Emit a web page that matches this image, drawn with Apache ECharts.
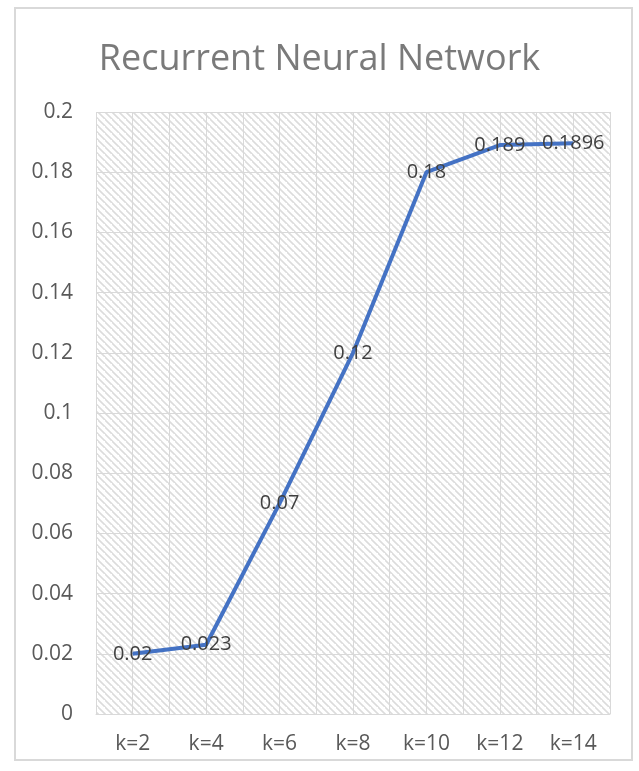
<!DOCTYPE html>
<html>
<head>
<meta charset="utf-8">
<script src="https://cdn.jsdelivr.net/npm/echarts@6/dist/echarts.min.js"></script>
<style>
  html, body { margin: 0; padding: 0; background: #ffffff; }
  #frame { position: absolute; left: 14px; top: 7px; width: 619px; height: 754px;
           border: 2px solid #d9d9d9; box-sizing: border-box; }
  #chart { position: absolute; left: 0; top: 0; width: 639px; height: 771px; }
</style>
</head>
<body>
<div id="frame"></div>
<div id="chart"></div>
<script>
// Chart data
const titleText = 'Recurrent Neural Network';
const categories = ['k=2', 'k=4', 'k=6', 'k=8', 'k=10', 'k=12', 'k=14'];
const values = [0.02, 0.023, 0.07, 0.12, 0.18, 0.189, 0.1896];
const yMin = 0;
const yMax = 0.2;
const yStep = 0.02;

// Diagonal hatch tile for the plot background
function hatchTile() {
  const s = 7;
  const c = document.createElement('canvas');
  c.width = s; c.height = s;
  const g = c.getContext('2d');
  g.fillStyle = '#ffffff';
  g.fillRect(0, 0, s, s);
  g.strokeStyle = '#dcdcdc';
  g.lineWidth = 1.6;
  g.beginPath();
  g.moveTo(-1, -1); g.lineTo(s + 1, s + 1);
  g.moveTo(-s - 1, -1); g.lineTo(1, s + 1);
  g.moveTo(s - 1, -s - 1); g.lineTo(2 * s + 1, s + 1);
  g.stroke();
  return c;
}

const chart = echarts.init(document.getElementById('chart'), null, { renderer: 'canvas' });
const font = '"Open Sans", "Noto Sans", sans-serif';

chart.setOption({
  animation: false,
  title: {
    text: titleText,
    left: 'center',
    top: 37,
    textStyle: { fontFamily: font, fontSize: 36, fontWeight: 'normal', color: '#7a7a7a' }
  },
  grid: {
    left: 96, right: 29, top: 112, bottom: 57,
    show: true,
    borderWidth: 0,
    backgroundColor: { image: hatchTile(), repeat: 'repeat' }
  },
  xAxis: [
    {
      type: 'category',
      data: categories,
      boundaryGap: true,
      axisLine: { show: true, lineStyle: { color: '#d9d9d9', width: 1 } },
      axisTick: { show: false },
      splitLine: { show: false },
      axisLabel: { color: '#595959', fontFamily: font, fontSize: 21, margin: 20 }
    },
    {
      // half-category grid lines
      type: 'value',
      position: 'bottom',
      min: 0, max: categories.length * 2, interval: 1,
      axisLine: { show: false }, axisTick: { show: false }, axisLabel: { show: false },
      splitLine: { show: true, lineStyle: { color: '#d9d9d9', width: 1 } }
    }
  ],
  yAxis: {
    type: 'value',
    min: yMin, max: yMax, interval: yStep,
    axisLine: { show: false },
    axisTick: { show: false },
    splitLine: { show: true, lineStyle: { color: '#d9d9d9', width: 1 } },
    axisLabel: {
      color: '#595959', fontFamily: font, fontSize: 21, margin: 23,
      formatter: v => String(parseFloat(v.toFixed(4)))
    }
  },
  series: [{
    type: 'line',
    xAxisIndex: 0,
    data: values,
    symbol: 'circle',
    symbolSize: 1,
    showAllSymbol: true,
    itemStyle: { color: '#4472c4' },
    lineStyle: { color: '#4472c4', width: 4 },
    label: {
      show: true,
      position: 'inside',
      align: 'center',
      verticalAlign: 'middle',
      color: '#404040',
      fontFamily: font,
      fontSize: 20,
      formatter: p => String(p.value)
    },
    labelLayout: { hideOverlap: false },
    z: 5
  }]
});
</script>
</body>
</html>
